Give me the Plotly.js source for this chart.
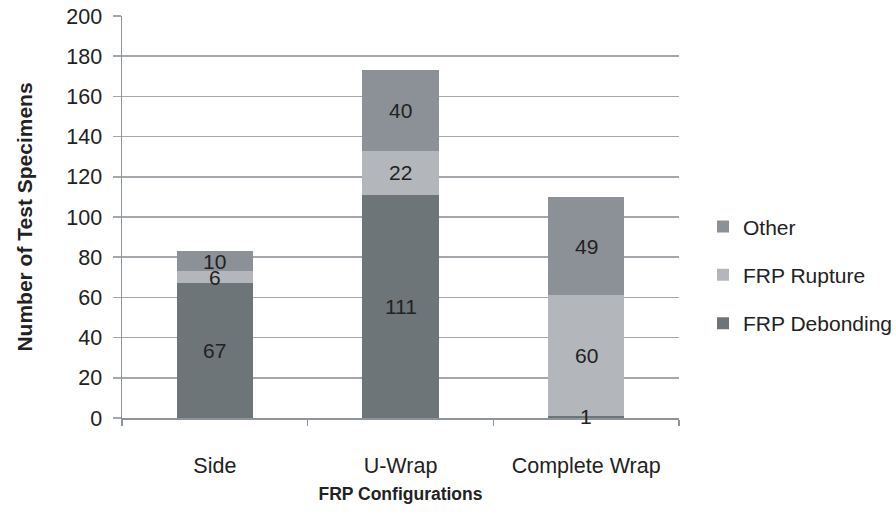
<!DOCTYPE html>
<html>
<head>
<meta charset="utf-8">
<script src="https://cdn.plot.ly/plotly-3.0.1.min.js"></script>
<style>
  html, body { margin: 0; padding: 0; background: #fff; }
  #chart { width: 896px; height: 529px; }
</style>
</head>
<body>
<div id="chart"></div>
<script>
// FRP strengthening configurations and their observed failure modes
const categories = ['Side', 'U-Wrap', 'Complete Wrap'];
const frpDebonding = [67, 111, 1];
const frpRupture = [6, 22, 60];
const other = [10, 40, 49];
const yTicks = [0, 20, 40, 60, 80, 100, 120, 140, 160, 180, 200];

// Stacked bottom to top; legend lists them top to bottom (rank)
const series = [
  { name: 'FRP Debonding', values: frpDebonding, color: '#6e7578', rank: 3 },
  { name: 'FRP Rupture', values: frpRupture, color: '#b3b7bc', rank: 2 },
  { name: 'Other', values: other, color: '#8b9196', rank: 1 }
];

const FONT = 'Liberation Sans, Arial, Helvetica, sans-serif';
const TEXT = '#222222';

const traces = series.map((s, i) => ({
  type: 'bar',
  name: s.name,
  x: categories,
  y: s.values,
  marker: { color: s.color, line: { width: 0 } },
  legendgroup: 'g' + i,
  legendrank: s.rank,
  hoverinfo: 'name+y'
}));

// Value labels centred in each stacked segment
const annotations = [];
const running = categories.map(() => 0);
series.forEach(s => {
  s.values.forEach((v, j) => {
    annotations.push({
      x: categories[j],
      y: running[j] + v / 2,
      xref: 'x', yref: 'y',
      text: String(v),
      showarrow: false,
      font: { family: FONT, size: 21, color: TEXT }
    });
    running[j] += v;
  });
});

const layout = {
  width: 896,
  height: 529,
  margin: { l: 122, r: 217, t: 16, b: 111, autoexpand: false },
  paper_bgcolor: '#ffffff',
  plot_bgcolor: '#ffffff',
  barmode: 'stack',
  bargap: 0.59,
  font: { family: FONT, size: 21, color: TEXT },
  xaxis: {
    type: 'category',
    showline: true,
    linecolor: '#8e9499',
    linewidth: 1.5,
    ticks: 'outside',
    tickson: 'boundaries',
    ticklen: 6,
    tickcolor: '#8e9499',
    tickwidth: 1.5,
    showgrid: false,
    tickfont: { family: FONT, size: 21.5, color: TEXT },
    ticklabelstandoff: 28,
    title: {
      text: 'FRP Configurations',
      font: { family: FONT, size: 17.5, color: TEXT, weight: 'bold' },
      standoff: 10
    }
  },
  yaxis: {
    range: [0, 200],
    tickvals: yTicks,
    showline: true,
    linecolor: '#8e9499',
    linewidth: 1.5,
    ticks: 'outside',
    ticklen: 8,
    tickcolor: '#a3a8ac',
    tickwidth: 1.5,
    showgrid: true,
    gridcolor: '#a3a8ac',
    gridwidth: 1.5,
    zeroline: false,
    ticklabelstandoff: 6,
    tickfont: { family: FONT, size: 21.5, color: TEXT },
    title: {
      text: 'Number of Test Specimens',
      font: { family: FONT, size: 21, color: TEXT, weight: 'bold' },
      standoff: 28
    }
  },
  legend: {
    xref: 'container',
    x: 703 / 896,
    xanchor: 'left',
    y: 0.356,
    yanchor: 'middle',
    traceorder: 'grouped',
    tracegroupgap: 18,
    font: { family: FONT, size: 21, color: TEXT },
    bgcolor: 'rgba(0,0,0,0)'
  },
  annotations: annotations,
  showlegend: true
};

Plotly.newPlot('chart', traces, layout, { displayModeBar: false, staticPlot: true });
</script>
</body>
</html>
